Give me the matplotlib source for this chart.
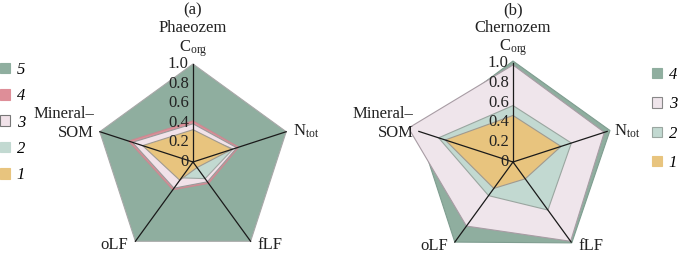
import numpy as np
import matplotlib
matplotlib.use('Agg')
import matplotlib.pyplot as plt
from matplotlib.patches import Patch

plt.rcParams['font.family'] = ['Liberation Serif', 'DejaVu Serif']
plt.rcParams['mathtext.fontset'] = 'custom'
plt.rcParams['mathtext.rm'] = 'Liberation Serif'
plt.rcParams['mathtext.it'] = 'Liberation Serif:italic'

# ---------------- data ----------------
axis_labels = [r'C$_{\rm org}$', r'N$_{\rm tot}$', 'fLF', 'oLF', 'Mineral–\nSOM']
tick_values = [0, 0.2, 0.4, 0.6, 0.8, 1.0]
tick_labels = ['0', '0.2', '0.4', '0.6', '0.8', '1.0']

# Phaeozem (a), order of axes: Corg, Ntot, fLF, oLF, Mineral-SOM
phaeo_names = ['5', '4', '3', '2', '1']
phaeo_5 = [1.00, 1.00, 1.00, 1.00, 1.00]
phaeo_4 = [0.42, 0.49, 0.27, 0.35, 0.69]
phaeo_3 = [0.39, 0.47, 0.25, 0.33, 0.65]
phaeo_2 = [0.30, 0.43, 0.21, 0.20, 0.50]
phaeo_1 = [0.33, 0.42, 0.07, 0.23, 0.54]

# Chernozem (b)
chern_names = ['4', '3', '2', '1']
chern_4 = [1.02, 1.03, 1.01, 1.00, 1.00]
chern_3 = [0.98, 0.97, 0.99, 0.80, 1.11]
chern_2 = [0.57, 0.62, 0.60, 0.42, 0.79]
chern_1 = [0.47, 0.51, 0.21, 0.33, 0.72]

C5 = '#8fae9f'
C4R = '#de8e98'
C3 = '#f1e2e9'
C2 = '#c2d9d1'
C1 = '#e8c47e'

phaeo_series = [phaeo_5, phaeo_4, phaeo_3, phaeo_2, phaeo_1]
phaeo_fc = [C5, C4R, C3, C2, C1]
phaeo_ec = ['#a8a8a8', '#c98a92', '#9a9a9a', '#a0a8a4', '#a09a90']

chern_series = [chern_4, chern_3, chern_2, chern_1]
chern_fc = [C5, '#efe5eb', C2, C1]
chern_ec = ['#7f9d90', '#a89ca4', '#9aa6a0', '#a09a90']

fig = plt.figure(figsize=(6.85, 2.6), dpi=100)
FS = 12


def radar(rect, series, fcs, ecs):
    ax = fig.add_axes(rect, projection='polar')
    ax.set_theta_offset(np.pi / 2)
    ax.set_theta_direction(-1)
    ax.set_ylim(0, 1)
    ax.set_axis_off()
    theta = np.arange(5) * 2 * np.pi / 5
    tc = np.append(theta, theta[0])
    for vals, fc, ec in zip(series, fcs, ecs):
        v = np.append(vals, vals[0])
        ax.fill(tc, v, facecolor=fc, edgecolor=ec, lw=0.8, clip_on=False)
    for th in theta:
        ax.plot([th, th], [0, 1], color='#1a1a1a', lw=0.9, clip_on=False)
    for tv, tl in zip(tick_values, tick_labels):
        ax.annotate(tl, (0, tv), xytext=(-3, 0), textcoords='offset points',
                    ha='right', va='center', fontsize=FS, color='#222')
    offs = [(0, 3.5, 'center', 'bottom'), (5, 0, 'left', 'center'),
            (5, -3, 'left', 'center'), (-5, -3, 'right', 'center'),
            (-4, 6, 'right', 'center')]
    for th, lab, (dx, dy, ha, va) in zip(theta, axis_labels, offs):
        ax.annotate(lab, (th, 1.0), xytext=(dx, dy), textcoords='offset points',
                    ha=ha, va=va, fontsize=FS, color='#222', linespacing=1.25)
    return ax


axa = radar([95 / 685, 0.0, 196 / 685, 196 / 260], phaeo_series, phaeo_fc, phaeo_ec)
axb = radar([414 / 685, -1 / 260, 198 / 685, 198 / 260], chern_series, chern_fc, chern_ec)

fig.text(193 / 685, 1 - 10 / 260, '(a)', ha='center', va='center', fontsize=FS, color='#222')
fig.text(193 / 685, 1 - 28 / 260, 'Phaeozem', ha='center', va='center', fontsize=FS, color='#222')
fig.text(513 / 685, 1 - 10 / 260, '(b)', ha='center', va='center', fontsize=FS, color='#222')
fig.text(513 / 685, 1 - 28 / 260, 'Chernozem', ha='center', va='center', fontsize=FS, color='#222')

leg_ec_a = ['#8fae9f', '#de8e98', '#777777', '#c2d9d1', '#e8c47e']
ha_ = [Patch(facecolor=fc, edgecolor=ec, lw=0.8) for fc, ec in zip(phaeo_fc, leg_ec_a)]
la = fig.legend(ha_, phaeo_names, loc='upper left', bbox_to_anchor=(0.0, 1 - 62 / 260),
                frameon=False, prop={'style': 'italic', 'size': FS},
                handlelength=0.6, handleheight=0.6, handletextpad=0.4,
                labelspacing=0.62, borderpad=0, borderaxespad=0)

leg_ec_b = ['#8fae9f', '#888888', '#9aa6a0', '#e8c47e']
hb_ = [Patch(facecolor=fc, edgecolor=ec, lw=0.8) for fc, ec in zip(chern_fc, leg_ec_b)]
lb = fig.legend(hb_, chern_names, loc='upper left', bbox_to_anchor=(652 / 685, 1 - 67 / 260),
                frameon=False, prop={'style': 'italic', 'size': FS},
                handlelength=0.6, handleheight=0.6, handletextpad=0.4,
                labelspacing=0.8, borderpad=0, borderaxespad=0)

fig.savefig('out.png', dpi=100)
